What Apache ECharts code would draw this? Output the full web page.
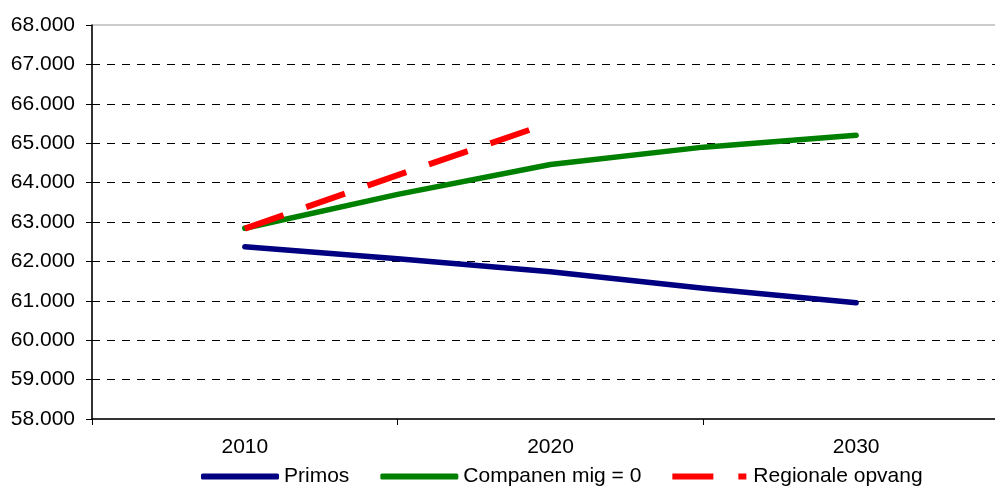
<!DOCTYPE html>
<html>
<head>
<meta charset="utf-8">
<script src="https://cdn.jsdelivr.net/npm/echarts@6/dist/echarts.min.js"></script>
<style>
  html, body { margin: 0; padding: 0; background: #fff; }
  #chart { width: 995px; height: 488px; }
</style>
</head>
<body>
<div id="chart"></div>
<script>
// Category labels on the visible axis and the years the series are sampled at
const decadeLabels = ['2010', '2020', '2030'];
const years = [2010, 2015, 2020, 2025, 2030];

// Population per scenario
const primos = [62370, 62070, 61740, 61320, 60950];
const companen = [62840, 63700, 64460, 64900, 65200];
const regionale = [62830, 64190, 65520];

const seriesNames = ['Primos', 'Companen mig = 0', 'Regionale opvang'];

const FONT = "'Liberation Sans', Arial, sans-serif";
const FONT_SIZE = 21;

function pairs(xs, ys) {
  return ys.map((v, i) => [xs[i], v]);
}

function dutchThousands(v) {
  return String(Math.round(v)).replace(/\B(?=(\d{3})+(?!\d))/g, '.');
}

const chart = echarts.init(document.getElementById('chart'), null, { renderer: 'canvas' });

chart.setOption({
  animation: false,
  backgroundColor: '#ffffff',
  // the plot area runs on past the right edge of the canvas
  grid: {
    left: 92,
    top: 25,
    width: 917,
    height: 394,
    outerBoundsMode: 'none',
    containLabel: false,
    show: true,
    borderColor: '#999999',
    borderWidth: 1,
    backgroundColor: 'transparent'
  },
  legend: {
    left: 201,
    top: 466,
    padding: 0,
    itemWidth: 78,
    itemHeight: 6,
    itemGap: 31,
    textStyle: { fontFamily: FONT, fontSize: FONT_SIZE, color: '#000' },
    itemStyle: { borderWidth: 0 },
    data: [
      { name: seriesNames[0], icon: 'roundRect' },
      { name: seriesNames[1], icon: 'roundRect' },
      { name: seriesNames[2], icon: 'path://M0,0H41V6H0Z M66,0H74V6H66Z' }
    ]
  },
  xAxis: [
    {
      type: 'category',
      data: decadeLabels,
      boundaryGap: true,
      axisLine: { show: true, lineStyle: { color: '#000', width: 1.5 } },
      axisTick: { show: true, length: 6, inside: false, lineStyle: { color: '#000', width: 1 } },
      axisLabel: { fontFamily: FONT, fontSize: FONT_SIZE, color: '#000', margin: 18 },
      splitLine: { show: false }
    },
    {
      type: 'value',
      min: 2005,
      max: 2035,
      show: false
    }
  ],
  yAxis: {
    type: 'value',
    min: 58000,
    max: 68000,
    interval: 1000,
    axisLine: { show: true, lineStyle: { color: '#000', width: 1.5 } },
    axisTick: { show: true, length: 6, lineStyle: { color: '#000', width: 1 } },
    axisLabel: {
      fontFamily: FONT, fontSize: FONT_SIZE, color: '#000', margin: 17,
      formatter: dutchThousands
    },
    splitLine: {
      show: true,
      showMinLine: false,
      showMaxLine: false,
      lineStyle: { color: '#000', width: 1, type: [8, 7] }
    }
  },
  series: [
    {
      name: seriesNames[0],
      type: 'line',
      xAxisIndex: 1,
      data: pairs(years, primos),
      showSymbol: false,
      symbol: 'none',
      color: '#000080',
      lineStyle: { color: '#000080', width: 5.5, cap: 'round', join: 'round' },
      z: 3
    },
    {
      name: seriesNames[1],
      type: 'line',
      xAxisIndex: 1,
      data: pairs(years, companen),
      showSymbol: false,
      symbol: 'none',
      color: '#008000',
      lineStyle: { color: '#008000', width: 5.5, cap: 'round', join: 'round' },
      z: 3
    },
    {
      name: seriesNames[2],
      type: 'line',
      xAxisIndex: 1,
      data: pairs(years.slice(0, regionale.length), regionale),
      showSymbol: false,
      symbol: 'none',
      color: '#ff0000',
      lineStyle: { color: '#ff0000', width: 6, type: [41, 24], cap: 'butt' },
      z: 4
    }
  ]
});
</script>
</body>
</html>
